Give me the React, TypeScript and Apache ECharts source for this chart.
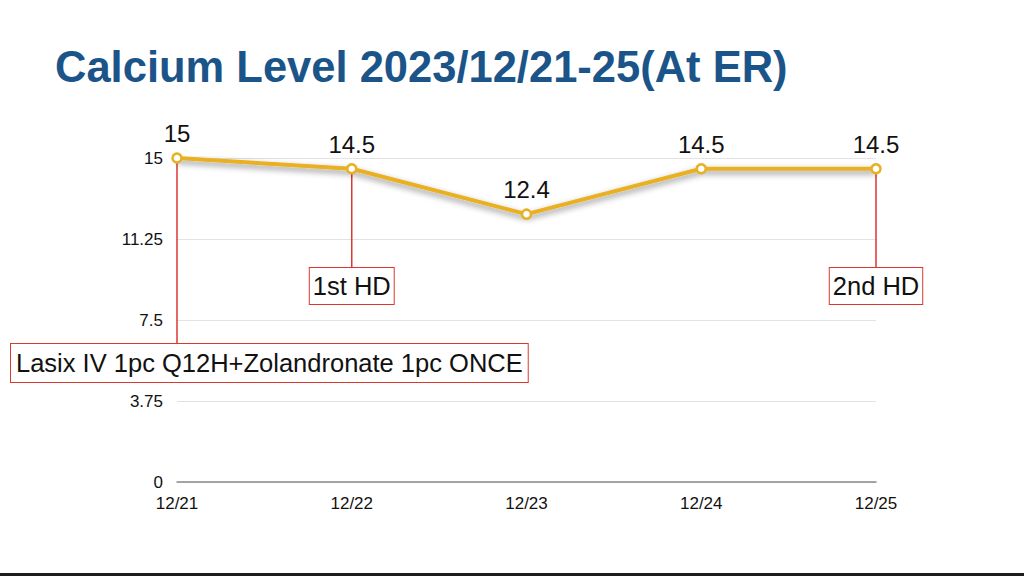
import React, { useEffect, useRef } from "react";
import * as echarts from "echarts";

const titleText = "Calcium Level 2023/12/21-25(At ER)";
const categories = ["12/21", "12/22", "12/23", "12/24", "12/25"];
const calcium = [15, 14.5, 12.4, 14.5, 14.5];
const yTicks = [0, 3.75, 7.5, 11.25, 15];
const noteIndex = [0, 1, 4];
const noteText = ["Lasix IV 1pc Q12H+Zolandronate 1pc ONCE", "1st HD", "2nd HD"];

// layout of annotation boxes (pixels)
const noteLayout = [
  { anchor: "left", x: 11, top: 344, padding: [6, 5, 6, 5] },
  { anchor: "center", x: null as number | null, top: 268, padding: [5, 3, 5, 3] },
  { anchor: "center", x: null as number | null, top: 268, padding: [5, 3, 5, 3] },
];

const FONT = "'Liberation Sans', Arial, Helvetica, sans-serif";

export default function App() {
  const ref = useRef<HTMLDivElement>(null);
  useEffect(() => {
    if (!ref.current) return;
    const chart = echarts.init(ref.current, null, { renderer: "svg" });
    chart.setOption({
      animation: false,
      backgroundColor: "#ffffff",
      grid: { left: 177, right: 148, top: 158, bottom: 94, containLabel: false },
      xAxis: {
        type: "category",
        data: categories,
        boundaryGap: false,
        axisLine: { show: true, lineStyle: { color: "#8a8a8a", width: 1.5 } },
        axisTick: { show: false },
        axisLabel: { color: "#111", fontSize: 17, fontFamily: FONT, margin: 13 },
      },
      yAxis: {
        type: "value",
        min: yTicks[0],
        max: yTicks[yTicks.length - 1],
        interval: yTicks[1] - yTicks[0],
        axisLine: { show: false },
        axisTick: { show: false },
        axisLabel: { color: "#111", fontSize: 17, fontFamily: FONT, margin: 14 },
        splitLine: { show: true, lineStyle: { color: "#e2e2e2", width: 1 } },
      },
      series: [
        {
          type: "line",
          data: calcium,
          symbol: "circle",
          symbolSize: 9,
          z: 5,
          lineStyle: {
            color: "#E8B023",
            width: 4,
            shadowColor: "rgba(0,0,0,0.45)",
            shadowBlur: 6,
            shadowOffsetY: 3,
          },
          itemStyle: { color: "#ffffff", borderColor: "#E8B023", borderWidth: 2.5 },
          label: {
            show: true,
            position: "top",
            distance: 7,
            color: "#111",
            fontSize: 24,
            fontFamily: FONT,
          },
        },
      ],
    });

    const graphics: any[] = [
      {
        type: "text",
        x: 55,
        y: 67,
        style: {
          text: titleText,
          font: `bold 43.5px ${FONT}`,
          fill: "#1B5488",
          align: "left",
          verticalAlign: "middle",
        },
      },
      {
        type: "rect",
        shape: { x: 0, y: 573, width: 1024, height: 3 },
        style: { fill: "#1c1c1c" },
      },
    ];

    noteIndex.forEach((idx, k) => {
      const p = chart.convertToPixel({ gridIndex: 0 }, [idx, calcium[idx]]) as number[];
      const lay = noteLayout[k];
      graphics.push({
        type: "line",
        z: 1,
        shape: { x1: p[0], y1: p[1], x2: p[0], y2: lay.top },
        style: { stroke: "#D9392F", lineWidth: 1.5 },
      });
      const isLeft = lay.anchor === "left";
      graphics.push({
        type: "text",
        z: 10,
        x: isLeft ? (lay.x as number) : p[0],
        y: lay.top,
        style: {
          text: noteText[k],
          font: `25.5px ${FONT}`,
          fill: "#111",
          align: isLeft ? "left" : "center",
          verticalAlign: "top",
          lineHeight: 26,
          padding: lay.padding,
          backgroundColor: "#ffffff",
          borderColor: "#D9392F",
          borderWidth: 1,
        },
      });
    });

    chart.setOption({ graphic: graphics });
    return () => chart.dispose();
  }, []);
  return (
    <div
      ref={ref}
      style={{ position: "fixed", left: 0, top: 0, width: 1024, height: 576 }}
    />
  );
}
